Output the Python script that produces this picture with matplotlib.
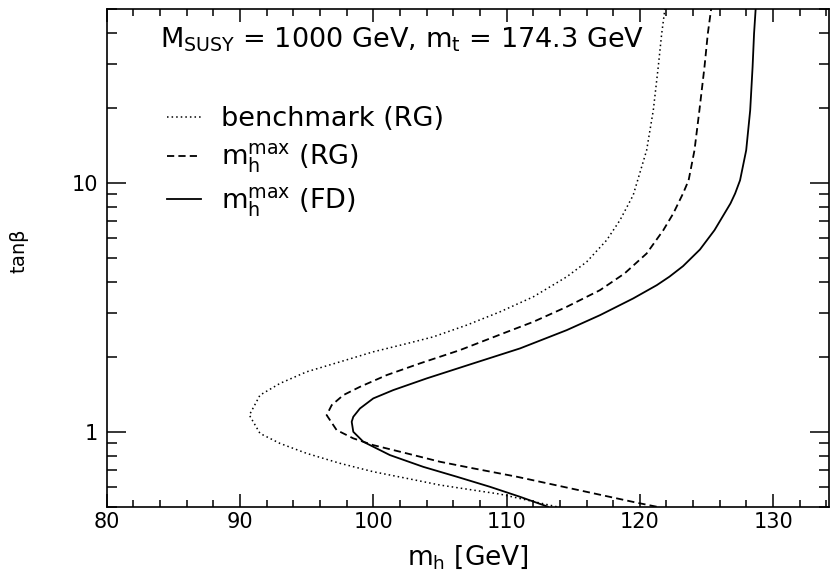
import matplotlib
matplotlib.use("Agg")
import matplotlib.pyplot as plt
from matplotlib.ticker import LogLocator, MultipleLocator, NullFormatter

plt.rcParams['font.family'] = ['DejaVu Sans']
plt.rcParams['mathtext.default'] = 'regular'

# benchmark (RG), dotted
bench_mh = [113.76, 109.50, 107.50, 105.00, 102.51, 100.00, 97.50, 95.00, 93.00, 91.50, 90.70,
            91.50, 93.00, 95.00, 97.50, 100.00, 102.51, 104.50, 107.01, 109.50, 112.00, 114.51,
            116.01, 117.51, 118.51, 119.50, 120.51, 121.01, 121.38, 121.64, 121.88]
bench_tb = [0.5, 0.562, 0.583, 0.611, 0.650, 0.691, 0.747, 0.819, 0.898, 0.985, 1.167,
            1.404, 1.565, 1.742, 1.910, 2.096, 2.261, 2.407, 2.683, 3.033, 3.485, 4.194,
            4.817, 5.888, 7.085, 8.925, 13.53, 19.59, 29.24, 39.8, 50.0]

# mh max (RG), dashed
rg_mh = [121.26, 119.76, 110.76, 107.50, 105.00, 102.51, 100.00, 98.50, 97.25, 96.50,
         96.88, 97.75, 99.00, 101.01, 103.50, 106.50, 109.73, 112.00, 114.51, 117.01,
         118.85, 120.51, 121.76, 122.51, 123.24, 123.66, 124.10, 124.47, 124.85, 125.10, 125.35]
rg_tb = [0.5, 0.519, 0.660, 0.713, 0.758, 0.819, 0.884, 0.941, 1.016, 1.167,
         1.280, 1.404, 1.516, 1.690, 1.883, 2.129, 2.484, 2.765, 3.177, 3.708,
         4.326, 5.205, 6.457, 7.537, 9.07, 10.25, 13.53, 19.59, 29.24, 39.8, 50.0]

# mh max (FD), solid
fd_mh = [113.1, 111.01, 108.76, 106.26, 103.75, 101.25, 99.25, 98.50, 98.38, 98.50, 99.00,
         100.00, 101.50, 104.01, 107.50, 111.01, 114.51, 117.01, 119.50, 121.27, 122.22,
         123.24, 124.51, 125.60, 126.80, 127.15, 127.52, 127.98, 128.28, 128.46, 128.57, 128.69]
fd_tb = [0.5, 0.548, 0.601, 0.660, 0.723, 0.806, 0.912, 1.0, 1.097, 1.149, 1.241,
         1.362, 1.471, 1.639, 1.883, 2.163, 2.561, 2.942, 3.434, 3.883, 4.2,
         4.63, 5.4, 6.457, 8.27, 9.07, 10.25, 13.53, 19.59, 29.24, 39.8, 50.0]

labels = ['benchmark (RG)', r'$m_h^{max}$ (RG)', r'$m_h^{max}$ (FD)']

fig = plt.figure(figsize=(8.3, 5.76), dpi=100)
ax = fig.add_axes([0.1286, 0.1203, 0.8703, 0.8641])

ax.plot(bench_mh, bench_tb, color='black', lw=1.1, linestyle=(0, (1, 2)), label=labels[0])
ax.plot(rg_mh, rg_tb, color='black', lw=1.3, linestyle=(0, (4, 2.3)), label=labels[1])
ax.plot(fd_mh, fd_tb, color='black', lw=1.3, linestyle='-', label=labels[2])

ax.set_yscale('log')
ax.set_xlim(80, 134.2)
ax.set_ylim(0.5, 50)

ax.xaxis.set_major_locator(MultipleLocator(10))
ax.xaxis.set_minor_locator(MultipleLocator(2))
ax.set_yticks([1, 10])
ax.set_yticklabels(['1', '10'])
ax.yaxis.set_minor_locator(LogLocator(base=10, subs=range(2, 10)))
ax.yaxis.set_minor_formatter(NullFormatter())

ax.tick_params(axis='both', which='both', direction='in', top=True, right=True,
               width=1.1, labelsize=15, color='black')
ax.tick_params(axis='x', which='major', length=9.5, pad=4)
ax.tick_params(axis='x', which='minor', length=5)
ax.tick_params(axis='y', which='major', length=14, pad=6)
ax.tick_params(axis='y', which='minor', length=7)
for s in ax.spines.values():
    s.set_linewidth(1.2)

ax.set_xlabel(r'$m_h$ [GeV]', fontsize=19, labelpad=8)
ax.set_ylabel(r'tan$\beta$', fontsize=14)
ax.yaxis.set_label_coords(-0.105, 0.512)

ax.text(84.0, 35.1, r'$M_{SUSY}$ = 1000 GeV, $m_t$ = 174.3 GeV', fontsize=19.5,
        ha='left', va='baseline')

ax.legend(loc='upper left', bbox_to_anchor=(0.083, 0.805), frameon=False, fontsize=19.5,
          handlelength=1.25, handletextpad=0.75, labelspacing=0.36, borderpad=0,
          borderaxespad=0)

fig.savefig('out.png', dpi=100)
